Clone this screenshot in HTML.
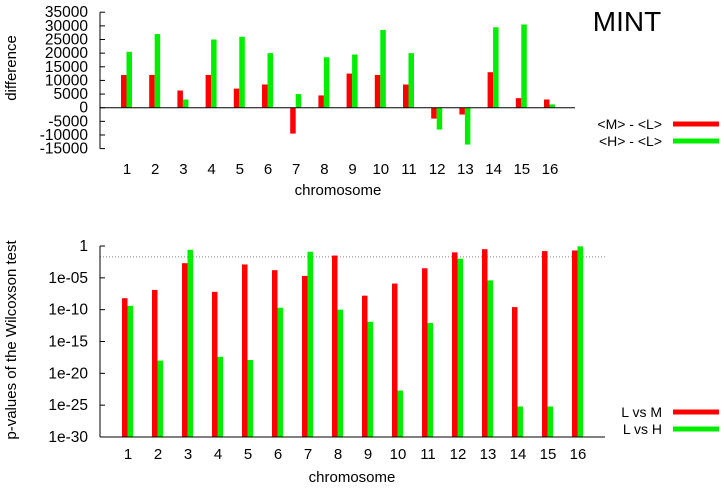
<!DOCTYPE html>
<html><head><meta charset="utf-8"><style>
html,body{margin:0;padding:0;background:#fff;}
svg{display:block;font-family:"Liberation Sans",sans-serif;}
</style></head><body>
<svg id="c" width="724" height="488" viewBox="0 0 724 488" xmlns="http://www.w3.org/2000/svg">
<text x="627" y="31" font-size="28" text-anchor="middle">MINT</text>
<g id="topPanel"></g>
<g id="botPanel"></g>
<text transform="translate(16,68) rotate(-90)" font-size="15" text-anchor="middle">difference</text>
<text x="338" y="195" font-size="15" text-anchor="middle">chromosome</text>
<text transform="translate(16,340) rotate(-90)" font-size="15" text-anchor="middle">p-values of the Wilcoxson test</text>
<text x="352" y="482" font-size="15" text-anchor="middle">chromosome</text>
<g>
<text x="662" y="129" font-size="14" text-anchor="end">&lt;M&gt; - &lt;L&gt;</text>
<line x1="673" y1="124" x2="719" y2="124" stroke="#f00" stroke-width="5"/>
<text x="662" y="146" font-size="14" text-anchor="end">&lt;H&gt; - &lt;L&gt;</text>
<line x1="673" y1="141" x2="719" y2="141" stroke="#0e0" stroke-width="5"/>
</g>
<g>
<text x="662" y="417" font-size="14" text-anchor="end">L vs M</text>
<line x1="673" y1="412" x2="719" y2="412" stroke="#f00" stroke-width="5"/>
<text x="662" y="434" font-size="14" text-anchor="end">L vs H</text>
<line x1="673" y1="429" x2="719" y2="429" stroke="#0e0" stroke-width="5"/>
</g>
</svg>
<script>
const chromosomes=[1,2,3,4,5,6,7,8,9,10,11,12,13,14,15,16];
const diffML=[12000,12000,6300,12000,7000,8500,-9500,4500,12500,12000,8500,-4000,-2500,13000,3500,3000];
const diffHL=[20500,27000,3000,25000,26000,20000,5000,18500,19500,28500,20000,-8000,-13500,29500,30500,1200];
const topTicks=[35000,30000,25000,20000,15000,10000,5000,0,-5000,-10000,-15000];
const logPLM=[-8.2,-6.9,-2.7,-7.2,-2.9,-3.8,-4.7,-1.5,-7.8,-5.9,-3.5,-1.0,-0.5,-9.6,-0.8,-0.7];
const logPLH=[-9.4,-18,-0.6,-17.4,-17.9,-9.7,-0.9,-10,-11.9,-22.7,-12.1,-2.0,-5.4,-25.2,-25.2,-0.05];
const botTicks=["1","1e-05","1e-10","1e-15","1e-20","1e-25","1e-30"];
const botTickExp=[0,-5,-10,-15,-20,-25,-30];
const threshold=0.02;
const NS="http://www.w3.org/2000/svg";
function mk(p,t,a){const e=document.createElementNS(NS,t);for(const k in a)e.setAttribute(k,a[k]);p.appendChild(e);return e;}
const topG=document.getElementById('topPanel');
const yT=v=>107.7-v*0.002728;
const xT=i=>127+(i-1)*28.2;
const ax=mk(topG,'line',{x1:100,y1:yT(35000),x2:100,y2:yT(-15000),stroke:'#000'});


topTicks.forEach(t=>{
 const l=mk(topG,'line',{x1:100,y1:yT(t),x2:105,y2:yT(t),stroke:'#000'});
 
 
 const tx=mk(topG,'text',{x:88,y:yT(t)+5,'font-size':15.5,'text-anchor':'end'});tx.textContent=t;
 
 
});
chromosomes.forEach((c,i)=>{
 const x=xT(c);
 [[diffML[i],'#f00',-6],[diffHL[i],'#0e0',-0.5]].forEach(([v,col,off],k)=>{
  const y0=yT(0),y1=yT(v);
  const r=mk(topG,'rect',{x:x+off,y:Math.min(y0,y1),width:5.5,height:Math.abs(y1-y0),fill:col});
  
  
 });
 const tx=mk(topG,'text',{x:x,y:174,'font-size':15,'text-anchor':'middle'});tx.textContent=c;
 
 
});
const zl=mk(topG,'line',{x1:100,y1:yT(0),x2:575,y2:yT(0),stroke:'#000'});


const botG=document.getElementById('botPanel');
const yL=e=>246-e*6.367;
const xB=i=>128+(i-1)*30;
const thl=mk(botG,'line',{x1:100,y1:yL(Math.log10(threshold)),x2:605,y2:yL(Math.log10(threshold)),stroke:'#888','stroke-dasharray':'1,2','stroke-width':1});


chromosomes.forEach((c,i)=>{
 const x=xB(c);
 [[logPLM[i],'#f00',-6],[logPLH[i],'#0e0',-0.5]].forEach(([v,col,off],k)=>{
  const y0=yL(-30),y1=yL(v);
  const r=mk(botG,'rect',{x:x+off,y:y1,width:5.5,height:y0-y1,fill:col});
  
  
 });
 const tx=mk(botG,'text',{x:x,y:459,'font-size':15,'text-anchor':'middle'});tx.textContent=c;
 
 
});
const ax2=mk(botG,'line',{x1:100,y1:yL(0),x2:100,y2:yL(-30),stroke:'#000'});


const xa2=mk(botG,'line',{x1:100,y1:yL(-30),x2:605,y2:yL(-30),stroke:'#000'});


botTicks.forEach((t,i)=>{
 const y=yL(botTickExp[i]);
 const l=mk(botG,'line',{x1:100,y1:y,x2:105,y2:y,stroke:'#000'});
 
 
 const tx=mk(botG,'text',{x:88,y:y+5,'font-size':15.5,'text-anchor':'end'});tx.textContent=t;
 
 
});
</script>
</body></html>
